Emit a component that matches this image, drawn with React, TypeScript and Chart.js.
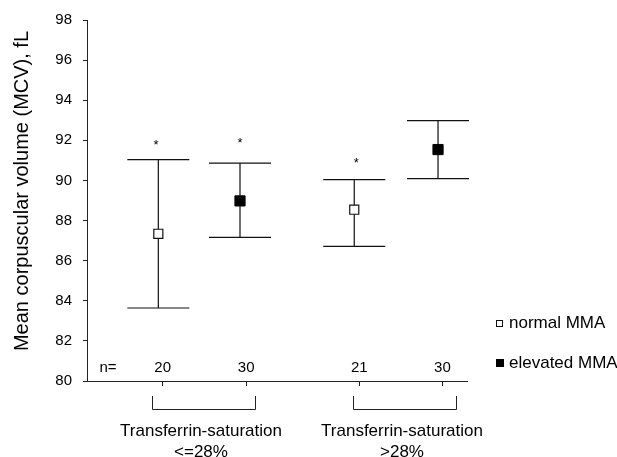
import React, { useEffect, useRef } from "react";
import { Chart, registerables } from "chart.js";

Chart.register(...registerables);

// ---- data ----
const groupLabels = ["Transferrin-saturation", "Transferrin-saturation"];
const groupSubLabels = ["<=28%", ">28%"];
const bracketFrom = [0.869, 3.275];
const bracketTo = [2.105, 4.508];
const nLabels = ["20", "30", "21", "30"];
const tickPositions = [1, 2, 3.355, 4.35];
const markerX = [0.948, 1.926, 3.294, 4.297];
const means = [87.34, 88.98, 88.54, 91.54];
const lowerCI = [83.64, 87.16, 86.71, 90.09];
const upperCI = [91.04, 90.86, 90.04, 92.98];
const seriesOf = [0, 1, 0, 1];
const seriesNames = ["normal MMA", "elevated MMA"];
const starX = [0.92, 1.926, 3.317];
const starY = [91.92, 92.04, 91.03];
const yTicks = [80, 82, 84, 86, 88, 90, 92, 94, 96, 98];

const FONT = "'Liberation Sans', Arial, Helvetica, sans-serif";

const overlay = {
  id: "overlay",
  beforeDatasetsDraw(chart: any) {
    const { ctx } = chart;
    const xs = chart.scales.x;
    const ys = chart.scales.y;
    ctx.save();
    ctx.strokeStyle = "#111";
    ctx.lineWidth = 1.2;
    for (let i = 0; i < means.length; i++) {
      const px = xs.getPixelForValue(markerX[i]);
      const pt = ys.getPixelForValue(upperCI[i]);
      const pb = ys.getPixelForValue(lowerCI[i]);
      ctx.beginPath();
      ctx.moveTo(px, pt);
      ctx.lineTo(px, pb);
      ctx.moveTo(px - 31, pt);
      ctx.lineTo(px + 31, pt);
      ctx.moveTo(px - 31, pb);
      ctx.lineTo(px + 31, pb);
      ctx.stroke();
    }
    ctx.restore();
  },
  afterDraw(chart: any) {
    const { ctx, chartArea } = chart;
    const xs = chart.scales.x;
    const ys = chart.scales.y;
    ctx.save();
    ctx.fillStyle = "#000";
    // stars
    ctx.font = `13px ${FONT}`;
    ctx.textAlign = "center";
    ctx.textBaseline = "alphabetic";
    for (let i = 0; i < starX.length; i++) {
      ctx.fillText("*", xs.getPixelForValue(starX[i]), ys.getPixelForValue(starY[i]) + 7.5);
    }
    // n labels
    ctx.font = `15px ${FONT}`;
    ctx.textBaseline = "middle";
    const ny = chartArea.bottom - 13;
    ctx.fillText("n=", chartArea.left + 21, ny);
    for (let i = 0; i < nLabels.length; i++) {
      ctx.fillText(nLabels[i], xs.getPixelForValue(tickPositions[i]), ny);
    }
    // brackets
    ctx.strokeStyle = "#222";
    ctx.lineWidth = 1;
    for (let g = 0; g < bracketFrom.length; g++) {
      const a = Math.round(xs.getPixelForValue(bracketFrom[g])) + 0.5;
      const b = Math.round(xs.getPixelForValue(bracketTo[g])) + 0.5;
      const top = chartArea.bottom + 15;
      const bot = chartArea.bottom + 28.5;
      ctx.beginPath();
      ctx.moveTo(a, top);
      ctx.lineTo(a, bot);
      ctx.lineTo(b, bot);
      ctx.lineTo(b, top);
      ctx.stroke();
      const cx = (a + b) / 2 - 3;
      ctx.font = `17px ${FONT}`;
      ctx.fillText(groupLabels[g], cx, chartArea.bottom + 50);
      ctx.fillText(groupSubLabels[g], cx, chartArea.bottom + 71);
    }
    // y title
    ctx.save();
    ctx.translate(22, 191);
    ctx.rotate(-Math.PI / 2);
    ctx.font = `20px ${FONT}`;
    ctx.fillText("Mean corpuscular volume (MCV), fL", 0, 0);
    ctx.restore();
    // legend
    const lx = 496;
    const rows = [323.5, 363];
    ctx.font = `17px ${FONT}`;
    ctx.textAlign = "left";
    for (let s = 0; s < seriesNames.length; s++) {
      const cy = rows[s];
      if (s === 0) {
        ctx.fillStyle = "#fff";
        ctx.fillRect(lx, cy - 3.5, 7, 7);
        ctx.strokeStyle = "#111";
        ctx.lineWidth = 1;
        ctx.strokeRect(lx + 0.5, cy - 3, 6, 6);
      } else {
        ctx.fillStyle = "#000";
        ctx.fillRect(lx, cy - 4, 8, 8);
      }
      ctx.fillStyle = "#000";
      ctx.fillText(seriesNames[s], 509, cy);
    }
    ctx.restore();
  },
};

export default function App() {
  const ref = useRef<HTMLCanvasElement | null>(null);
  useEffect(() => {
    document.body.style.margin = "0";
    document.body.style.overflow = "hidden";
    const canvas = ref.current!;
    const pts = (s: number) =>
      means
        .map((m, i) => ({ x: markerX[i], y: m, s: seriesOf[i] }))
        .filter((p) => p.s === s)
        .map((p) => ({ x: p.x, y: p.y }));
    const chart = new Chart(canvas, {
      type: "scatter",
      data: {
        datasets: [
          {
            label: seriesNames[0],
            data: pts(0),
            pointStyle: "rect",
            pointRadius: 6.4,
            pointBackgroundColor: "#fff",
            pointBorderColor: "#111",
            pointBorderWidth: 1.2,
          },
          {
            label: seriesNames[1],
            data: pts(1),
            pointStyle: "rect",
            pointRadius: 7.2,
            pointBackgroundColor: "#000",
            pointBorderColor: "#000",
            pointBorderWidth: 1,
          },
        ],
      },
      options: {
        responsive: false,
        animation: false,
        layout: { padding: { left: 0, right: 150, top: 19, bottom: 0 } },
        plugins: { legend: { display: false }, tooltip: { enabled: false } },
        scales: {
          x: {
            type: "linear",
            min: 0.094,
            max: 4.644,
            afterBuildTicks: (scale: any) => {
              scale.ticks = tickPositions.map((v) => ({ value: v }));
            },
            afterFit: (scale: any) => {
              scale.height = 76;
            },
            ticks: { callback: () => "", font: { size: 1 } },
            grid: { drawOnChartArea: false, drawTicks: true, tickLength: 5, color: "#222" },
            border: { display: true, color: "#222", width: 1 },
          },
          y: {
            type: "linear",
            min: 80,
            max: 98,
            afterBuildTicks: (scale: any) => {
              scale.ticks = yTicks.map((v) => ({ value: v }));
            },
            afterFit: (scale: any) => {
              scale.width = 87;
            },
            ticks: {
              color: "#000",
              padding: 11,
              font: { size: 15, family: FONT },
            },
            grid: { drawOnChartArea: false, drawTicks: true, tickLength: 4, color: "#222" },
            border: { display: true, color: "#222", width: 1 },
          },
        },
      },
      plugins: [overlay],
    } as any);
    return () => chart.destroy();
  }, []);
  return <canvas ref={ref} width={617} height={457} style={{ display: "block" }} />;
}
